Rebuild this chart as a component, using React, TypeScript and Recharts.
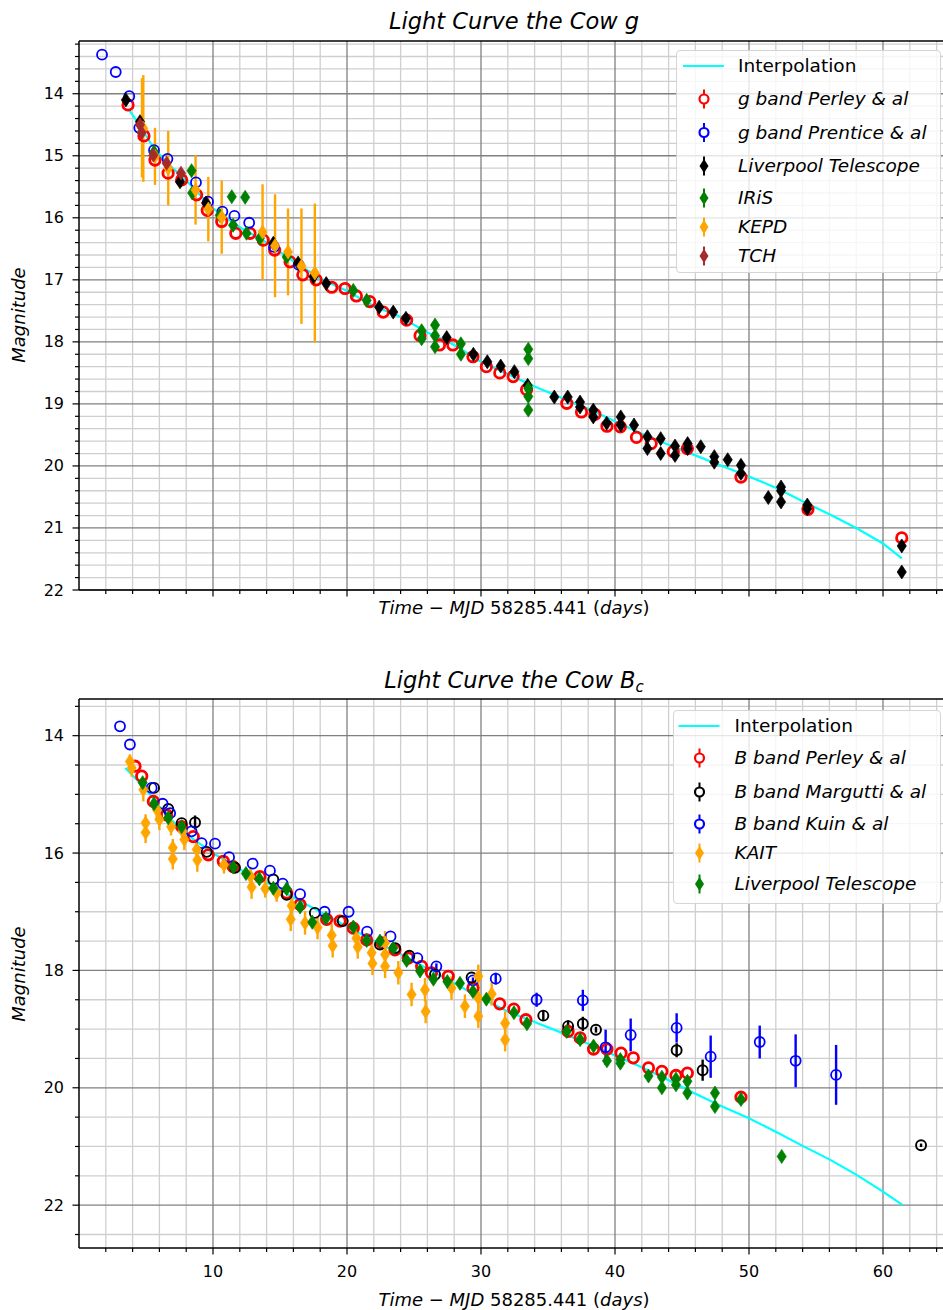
import React from 'react';
import { ComposedChart, ErrorBar, Line, ReferenceLine, Scatter, XAxis, YAxis } from 'recharts';

// ---- g band (top panel) ----
const gInterp: [number, number][] = [
	[3.7, 14.25], [4.5, 14.5], [5.5, 14.85], [6.5, 15.1], [8, 15.4], [10, 15.85], [12, 16.15], [14, 16.4],
	[16, 16.7], [18, 16.98], [20, 17.18], [22, 17.42], [24, 17.6], [26, 17.85], [28, 18.05], [30, 18.32],
	[32, 18.52], [34, 18.72], [36, 18.9], [38, 19.08], [40, 19.28], [42, 19.48], [44, 19.66], [46, 19.83],
	[48, 20.0], [50, 20.17], [52, 20.35], [54, 20.57], [56, 20.78], [58, 21.0], [60, 21.25], [61.4, 21.49]
];

const gPerley: [number, number][] = [
	[3.66, 14.18], [4.85, 14.68], [5.67, 15.07], [6.65, 15.28], [7.66, 15.39], [8.78, 15.63], [9.57, 15.88],
	[10.65, 16.06], [11.7, 16.25], [12.76, 16.25], [13.75, 16.36], [14.6, 16.52], [15.75, 16.71], [16.7, 16.92],
	[17.7, 17.0], [18.86, 17.12], [19.85, 17.14], [20.7, 17.26], [21.7, 17.35], [22.7, 17.52], [24.45, 17.65],
	[25.45, 17.9], [26.9, 18.05], [27.9, 18.05], [29.4, 18.24], [30.4, 18.4], [31.4, 18.5], [32.4, 18.56],
	[33.4, 18.77], [36.4, 18.99], [37.5, 19.13], [38.5, 19.17], [39.4, 19.36], [40.4, 19.37], [41.6, 19.54],
	[42.7, 19.64], [44.35, 19.77], [45.4, 19.72], [49.4, 20.18], [54.4, 20.7], [61.4, 21.16]
];

const gPrentice: [number, number][] = [
	[1.72, 13.37], [2.74, 13.65], [3.75, 14.04], [4.5, 14.55], [5.6, 14.91], [6.6, 15.05], [8.73, 15.43],
	[9.63, 15.74], [10.7, 15.9], [11.6, 15.97], [12.7, 16.08], [14.55, 16.47], [16.4, 16.76]
];

const gLiverpool: [number, number][] = [
	[3.5, 14.1], [4.55, 14.45], [7.54, 15.42], [9.48, 15.76], [14.5, 16.41], [16.35, 16.73], [17.5, 16.95],
	[18.45, 17.06], [22.4, 17.44], [23.45, 17.52], [24.4, 17.62], [27.44, 17.93], [29.43, 18.2], [30.47, 18.32],
	[31.47, 18.39], [32.49, 18.48], [33.48, 18.7], [35.47, 18.89], [36.47, 18.89], [37.39, 18.97], [37.39, 19.05],
	[38.38, 19.1], [38.38, 19.21], [39.38, 19.31], [40.43, 19.21], [40.43, 19.34], [41.42, 19.34], [42.42, 19.53],
	[42.42, 19.72], [43.41, 19.56], [43.41, 19.8], [44.48, 19.68], [44.48, 19.83], [45.42, 19.64], [45.42, 19.72],
	[46.4, 19.69], [47.41, 19.85], [47.41, 19.94], [48.41, 19.9], [49.4, 19.99], [49.4, 20.12], [51.44, 20.51],
	[52.39, 20.34], [52.39, 20.4], [52.39, 20.58], [54.35, 20.63], [54.35, 20.69], [61.4, 21.29], [61.4, 21.71]
];

const gIris: [number, number][] = [
	[5.6, 14.94], [8.4, 15.24], [8.45, 15.6], [10.5, 15.96], [11.4, 15.66], [11.5, 16.12], [12.4, 15.67],
	[12.5, 16.25], [13.5, 16.33], [15.5, 16.63], [20.47, 17.17], [21.47, 17.33], [25.57, 17.82], [25.57, 17.95],
	[26.57, 17.73], [26.57, 17.9], [26.57, 18.08], [28.5, 18.03], [28.5, 18.2], [33.53, 18.12], [33.53, 18.27],
	[33.53, 18.75], [33.53, 18.88], [33.53, 19.1]
];

// x, magnitude, error
const gKepd: [number, number, number][] = [
	[4.7, 14.55, 0.8], [4.8, 14.56, 0.86], [5.67, 15.01, 0.46], [6.66, 15.2, 0.6], [8.7, 15.55, 0.56],
	[9.65, 15.86, 0.52], [10.65, 15.99, 0.59], [13.7, 16.23, 0.77], [14.63, 16.45, 0.83], [15.6, 16.55, 0.7],
	[16.6, 16.78, 0.93], [17.6, 16.89, 1.12]
];

const gTch: [number, number][] = [
	[4.55, 14.5], [4.68, 14.63], [5.55, 14.99], [6.54, 15.12], [7.61, 15.28]
];

// ---- B band (bottom panel) ----
const bInterp: [number, number][] = [
	[3.45, 14.55], [4.8, 14.86], [6.5, 15.35], [8, 15.68], [10, 16.0], [12, 16.28], [14, 16.5], [16, 16.76],
	[18, 17.0], [20, 17.25], [22, 17.5], [24, 17.72], [26, 17.97], [28, 18.22], [30, 18.47], [32, 18.7],
	[34, 18.88], [36, 19.06], [38, 19.25], [40, 19.45], [42, 19.65], [44, 19.87], [46, 20.1], [48, 20.32],
	[50, 20.52], [52, 20.75], [54, 20.99], [56, 21.22], [58, 21.48], [60, 21.77], [61.47, 22.0]
];

const bPerley: [number, number][] = [
	[4.18, 14.52], [4.68, 14.69], [5.55, 15.12], [6.54, 15.35], [7.66, 15.55], [8.53, 15.72], [9.65, 16.03],
	[10.77, 16.14], [11.5, 16.23], [13.5, 16.4], [15.5, 16.68], [16.5, 16.88], [18.48, 17.13], [19.48, 17.16],
	[20.47, 17.28], [21.47, 17.48], [22.6, 17.53], [23.58, 17.65], [24.57, 17.79], [25.57, 17.93], [26.3, 18.04],
	[27.56, 18.1], [29.4, 18.3], [31.4, 18.57], [32.45, 18.66], [33.35, 18.84], [36.5, 19.04], [37.4, 19.15],
	[38.4, 19.34], [39.4, 19.34], [40.45, 19.41], [41.37, 19.49], [42.5, 19.66], [43.5, 19.72], [44.55, 19.79],
	[45.4, 19.75], [49.4, 20.16]
];

const bMargutti: [number, number, number][] = [
	[5.6, 14.89, 0], [6.66, 15.25, 0], [7.66, 15.49, 0], [8.66, 15.48, 0.12], [9.53, 15.98, 0], [11.64, 16.25, 0],
	[14.5, 16.45, 0], [15.5, 16.71, 0], [17.6, 17.02, 0], [19.68, 17.16, 0], [22.46, 17.56, 0], [23.6, 17.62, 0],
	[24.65, 17.75, 0], [26.57, 18.07, 0], [29.3, 18.12, 0], [34.65, 18.77, 0.08], [36.5, 18.95, 0.1],
	[37.6, 18.91, 0.12], [38.58, 19.01, 0.05], [44.6, 19.36, 0.12], [46.54, 19.7, 0.18], [62.84, 20.98, 0.03]
];

const bKuin: [number, number, number][] = [
	[3.06, 13.84, 0], [3.8, 14.15, 0], [5.42, 14.89, 0], [6.24, 15.16, 0], [6.8, 15.32, 0], [8.4, 15.63, 0],
	[9.15, 15.83, 0], [10.15, 15.84, 0], [11.2, 16.07, 0], [12.96, 16.18, 0], [14.25, 16.3, 0], [15.2, 16.52, 0],
	[16.5, 16.7, 0], [18.33, 17.0, 0], [20.12, 17.0, 0], [21.5, 17.34, 0], [23.25, 17.42, 0], [25.25, 17.79, 0],
	[26.67, 17.93, 0.05], [29.4, 18.17, 0.05], [31.1, 18.14, 0.1], [34.15, 18.5, 0.12], [37.6, 18.51, 0.18],
	[39.3, 19.31, 0.3], [41.17, 19.1, 0.28], [44.6, 18.98, 0.25], [47.14, 19.47, 0.36], [50.8, 19.22, 0.28],
	[53.48, 19.54, 0.45], [56.5, 19.78, 0.51]
];

const bKait: [number, number, number][] = [
	[3.8, 14.44, 0.12], [3.93, 14.55, 0.15], [4.8, 14.92, 0.2], [4.97, 15.49, 0.15], [4.97, 15.65, 0.18],
	[5.8, 15.26, 0.15], [6.0, 15.43, 0.18], [6.87, 15.55, 0.15], [7.0, 15.91, 0.15], [7.0, 16.1, 0.18],
	[7.74, 15.63, 0.15], [7.86, 15.77, 0.18], [8.78, 15.94, 0.15], [8.83, 16.12, 0.2], [10.82, 16.2, 0.15],
	[12.8, 16.4, 0.15], [12.88, 16.58, 0.2], [13.9, 16.61, 0.15], [14.75, 16.68, 0.15], [15.87, 16.9, 0.15],
	[15.8, 17.13, 0.2], [16.87, 17.19, 0.2], [17.8, 17.27, 0.2], [18.86, 17.4, 0.2], [18.93, 17.58, 0.2],
	[20.7, 17.45, 0.2], [20.8, 17.6, 0.2], [21.84, 17.7, 0.2], [21.9, 17.88, 0.2], [22.84, 17.53, 0.2],
	[22.84, 17.73, 0.2], [22.84, 17.93, 0.2], [23.83, 18.04, 0.2], [24.82, 18.41, 0.2], [25.82, 18.33, 0.2],
	[25.87, 18.7, 0.2], [27.8, 18.3, 0.2], [28.8, 18.61, 0.2], [29.8, 18.1, 0.2], [29.8, 18.47, 0.2],
	[29.8, 18.78, 0.2], [30.8, 18.4, 0.2], [31.8, 18.9, 0.2], [31.8, 19.18, 0.2]
];

const bLiverpool: [number, number][] = [
	[4.75, 14.8], [5.6, 15.16], [6.66, 15.4], [7.66, 15.55], [11.52, 16.24], [12.46, 16.35], [13.46, 16.44],
	[14.5, 16.6], [15.5, 16.61], [16.5, 16.92], [17.41, 17.18], [18.43, 17.11], [20.47, 17.26], [21.47, 17.49],
	[22.46, 17.5], [23.45, 17.62], [24.45, 17.83], [25.45, 18.01], [26.45, 18.15], [27.49, 18.19], [28.43, 18.22],
	[29.4, 18.36], [30.4, 18.49], [32.46, 18.72], [33.43, 18.91], [36.4, 19.04], [37.4, 19.18], [38.4, 19.29],
	[39.4, 19.54], [40.4, 19.52], [40.4, 19.58], [42.5, 19.8], [43.5, 19.82], [43.5, 20.0], [44.55, 19.85],
	[44.55, 19.95], [45.4, 19.89], [45.4, 20.09], [47.46, 20.09], [47.46, 20.32], [49.4, 20.2], [52.44, 21.17]
];

// ---- ticks ----
const xMajor = [10, 20, 30, 40, 50, 60];
const xMinor = [2, 4, 6, 8, 12, 14, 16, 18, 22, 24, 26, 28, 32, 34, 36, 38, 42, 44, 46, 48, 52, 54, 56, 58, 62, 64];
const gYMajor = [14, 15, 16, 17, 18, 19, 20, 21, 22];
const gYMinor = [
	13.2, 13.4, 13.6, 13.8, 14.2, 14.4, 14.6, 14.8, 15.2, 15.4, 15.6, 15.8, 16.2, 16.4, 16.6, 16.8, 17.2, 17.4,
	17.6, 17.8, 18.2, 18.4, 18.6, 18.8, 19.2, 19.4, 19.6, 19.8, 20.2, 20.4, 20.6, 20.8, 21.2, 21.4, 21.6, 21.8
];
const bYMajor = [14, 16, 18, 20, 22];
const bYMinor = [13.5, 14.5, 15, 15.5, 16.5, 17, 17.5, 18.5, 19, 19.5, 20.5, 21, 21.5, 22.5];

const FONT = "'DejaVu Sans', 'Liberation Sans', sans-serif";
const MAJOR_GRID = '#808080';
const MINOR_GRID = '#cfcfcf';
const W = 950;
const H = 640;
const AXIS_LEFT = 79;
const AXIS_BOTTOM = 590;

const pts = (rows: number[][]) => rows.map((r) => ({ x: r[0], y: r[1], err: r[2] ?? 0 }));

const ring = (color: string, r: number, sw: number) => (p: any) => (
	<circle cx={p.cx} cy={p.cy} r={r} fill='none' stroke={color} strokeWidth={sw} />
);

const diamond = (color: string) => (p: any) => (
	<polygon
		points={`${p.cx},${p.cy - 7} ${p.cx + 4.6},${p.cy} ${p.cx},${p.cy + 7} ${p.cx - 4.6},${p.cy}`}
		fill={color}
		stroke={color}
		strokeWidth={0.7}
	/>
);

type Series = {
	name: string;
	data: { x: number; y: number; err: number }[];
	shape: (p: any) => React.ReactElement;
	errColor?: string;
};

const Panel: React.FC<{
	yDomain: [number, number];
	yMajor: number[];
	yMinor: number[];
	xLabels: boolean;
	interp: [number, number][];
	series: Series[];
}> = ({ yDomain, yMajor, yMinor, xLabels, interp, series }) => {
	const yTicks = [...yMajor, ...yMinor].sort((a, b) => a - b);
	const xTicks = [...xMajor, ...xMinor].sort((a, b) => a - b);
	const renderYTick = (p: any) => {
		const v = p.payload.value;
		const major = yMajor.includes(v);
		return (
			<g>
				<line x1={AXIS_LEFT} x2={AXIS_LEFT - (major ? 6.5 : 4)} y1={p.y} y2={p.y} stroke='#000' strokeWidth={1.2} />
				{major && (
					<text x={AXIS_LEFT - 15} y={p.y} textAnchor='end' dominantBaseline='central' fontSize={16} fontFamily={FONT} fill='#000'>
						{v}
					</text>
				)}
			</g>
		);
	};
	const renderXTick = (p: any) => {
		const v = p.payload.value;
		const major = xMajor.includes(v);
		return (
			<g>
				<line x1={p.x} x2={p.x} y1={AXIS_BOTTOM} y2={AXIS_BOTTOM + (major ? 6.5 : 4)} stroke='#000' strokeWidth={1.2} />
				{major && xLabels && (
					<text x={p.x} y={AXIS_BOTTOM + 23} textAnchor='middle' dominantBaseline='central' fontSize={16} fontFamily={FONT} fill='#000'>
						{v}
					</text>
				)}
			</g>
		);
	};
	return (
		<ComposedChart width={W} height={H} margin={{ top: 41, right: 0, bottom: 0, left: 0 }}>
			<XAxis
				type='number'
				dataKey='x'
				domain={[0, 65]}
				allowDataOverflow
				ticks={xTicks}
				interval={0}
				tickLine={false}
				tick={renderXTick}
				axisLine={{ stroke: '#000', strokeWidth: 1.5 }}
				height={H - AXIS_BOTTOM}
			/>
			<YAxis
				type='number'
				dataKey='y'
				domain={yDomain}
				reversed
				allowDataOverflow
				ticks={yTicks}
				interval={0}
				tickLine={false}
				tick={renderYTick}
				axisLine={{ stroke: '#000', strokeWidth: 1.5 }}
				width={AXIS_LEFT}
			/>
			{xMinor.map((v) => (
				<ReferenceLine key={`xm${v}`} x={v} stroke={MINOR_GRID} strokeWidth={1.3} zIndex={-60} />
			))}
			{yMinor.map((v) => (
				<ReferenceLine key={`ym${v}`} y={v} stroke={MINOR_GRID} strokeWidth={1.3} zIndex={-60} />
			))}
			{xMajor.map((v) => (
				<ReferenceLine key={`xM${v}`} x={v} stroke={MAJOR_GRID} strokeWidth={1.3} zIndex={-50} />
			))}
			{yMajor.map((v) => (
				<ReferenceLine key={`yM${v}`} y={v} stroke={MAJOR_GRID} strokeWidth={1.3} zIndex={-50} />
			))}
			<ReferenceLine y={yDomain[0]} stroke='#000' strokeWidth={1.5} />
			<Line
				data={interp.map((r) => ({ x: r[0], y: r[1] }))}
				dataKey='y'
				type='linear'
				stroke='#00ffff'
				strokeWidth={2.2}
				dot={false}
				activeDot={false}
				isAnimationActive={false}
			/>
			{series.map((s) => (
				<Scatter key={s.name} name={s.name} data={s.data} dataKey='y' shape={s.shape} isAnimationActive={false}>
					{s.errColor && <ErrorBar dataKey='err' direction='y' width={0} stroke={s.errColor} strokeWidth={2.4} />}
				</Scatter>
			))}
		</ComposedChart>
	);
};

type LegendItem = { label: React.ReactNode; kind: 'line' | 'ring' | 'diamond'; color: string; cy: number };

const Legend: React.FC<{ left: number; top: number; width: number; height: number; handleX: number; textX: number; items: LegendItem[] }> = ({
	left,
	top,
	width,
	height,
	handleX,
	textX,
	items
}) => (
	<div
		style={{
			position: 'absolute',
			left,
			top,
			width,
			height,
			background: 'rgba(255,255,255,0.8)',
			border: '1px solid #d5d5d5',
			borderRadius: 4,
			boxSizing: 'border-box'
		}}
	>
		<svg width={width} height={height} style={{ position: 'absolute', left: 0, top: 0 }}>
			{items.map((it, i) => {
				if (it.kind === 'line') {
					return <line key={i} x1={handleX - 21} x2={handleX + 20} y1={it.cy} y2={it.cy} stroke={it.color} strokeWidth={2.2} />;
				}
				return (
					<g key={i}>
						<line x1={handleX} x2={handleX} y1={it.cy - 9.5} y2={it.cy + 9.5} stroke={it.color} strokeWidth={2} />
						{it.kind === 'ring' ? (
							<circle cx={handleX} cy={it.cy} r={4.5} fill='#fff' stroke={it.color} strokeWidth={2.2} />
						) : (
							<polygon
								points={`${handleX},${it.cy - 7} ${handleX + 4.5},${it.cy} ${handleX},${it.cy + 7} ${handleX - 4.5},${it.cy}`}
								fill={it.color}
							/>
						)}
					</g>
				);
			})}
		</svg>
		{items.map((it, i) => (
			<div
				key={i}
				style={{
					position: 'absolute',
					left: textX,
					top: it.cy - 12,
					height: 24,
					lineHeight: '24px',
					fontSize: 18.5,
					fontFamily: FONT,
					fontStyle: it.kind === 'line' ? 'normal' : 'italic',
					whiteSpace: 'nowrap',
					color: '#000'
				}}
			>
				{it.label}
			</div>
		))}
	</div>
);

const textBase: React.CSSProperties = { position: 'absolute', fontFamily: FONT, color: '#000', whiteSpace: 'nowrap' };

const Title: React.FC<{ top: number; children: React.ReactNode }> = ({ top, children }) => (
	<div style={{ ...textBase, left: 514, top, transform: 'translateX(-50%)', fontSize: 22.5, fontStyle: 'italic', lineHeight: '26px' }}>
		{children}
	</div>
);

const XLabel: React.FC<{ top: number }> = ({ top }) => (
	<div style={{ ...textBase, left: 514, top, transform: 'translateX(-50%)', fontSize: 18, lineHeight: '22px' }}>
		<i>Time</i> − <i>MJD</i> 58285.441 (<i>days</i>)
	</div>
);

const YLabel: React.FC<{ center: number }> = ({ center }) => (
	<div
		style={{
			...textBase,
			left: 19,
			top: center,
			transform: 'translate(-50%, -50%) rotate(-90deg)',
			fontSize: 18,
			fontStyle: 'italic',
			lineHeight: '22px'
		}}
	>
		Magnitude
	</div>
);

export default function App() {
	const gSeries: Series[] = [
		{ name: 'g band Perley & al', data: pts(gPerley), shape: ring('#ff0000', 5.2, 2.8) },
		{ name: 'g band Prentice & al', data: pts(gPrentice), shape: ring('#0000ff', 5, 1.8) },
		{ name: 'Liverpool Telescope', data: pts(gLiverpool), shape: diamond('#000000') },
		{ name: 'IRiS', data: pts(gIris), shape: diamond('#008000') },
		{ name: 'KEPD', data: pts(gKepd), shape: diamond('#ffa500'), errColor: '#ffa500' },
		{ name: 'TCH', data: pts(gTch), shape: diamond('#a52a2a') }
	];
	const bSeries: Series[] = [
		{ name: 'B band Perley & al', data: pts(bPerley), shape: ring('#ff0000', 5.2, 2.8) },
		{ name: 'B band Margutti & al', data: pts(bMargutti), shape: ring('#000000', 5, 1.9), errColor: '#000000' },
		{ name: 'B band Kuin & al', data: pts(bKuin), shape: ring('#0000ff', 5, 1.8), errColor: '#0000ff' },
		{ name: 'KAIT', data: pts(bKait), shape: diamond('#ffa500'), errColor: '#ffa500' },
		{ name: 'Liverpool Telescope', data: pts(bLiverpool), shape: diamond('#008000') }
	];

	const gLegend: LegendItem[] = [
		{ label: 'Interpolation', kind: 'line', color: '#00ffff', cy: 15 },
		{ label: 'g band Perley & al', kind: 'ring', color: '#ff0000', cy: 48 },
		{ label: 'g band Prentice & al', kind: 'ring', color: '#0000ff', cy: 81.5 },
		{ label: 'Liverpool Telescope', kind: 'diamond', color: '#000000', cy: 115 },
		{ label: 'IRiS', kind: 'diamond', color: '#008000', cy: 147 },
		{ label: 'KEPD', kind: 'diamond', color: '#ffa500', cy: 176 },
		{ label: 'TCH', kind: 'diamond', color: '#a52a2a', cy: 205 }
	];
	const bLegend: LegendItem[] = [
		{ label: 'Interpolation', kind: 'line', color: '#00ffff', cy: 15 },
		{ label: 'B band Perley & al', kind: 'ring', color: '#ff0000', cy: 47 },
		{ label: 'B band Margutti & al', kind: 'ring', color: '#000000', cy: 81 },
		{ label: 'B band Kuin & al', kind: 'ring', color: '#0000ff', cy: 113 },
		{ label: 'KAIT', kind: 'diamond', color: '#ffa500', cy: 142 },
		{ label: 'Liverpool Telescope', kind: 'diamond', color: '#008000', cy: 173 }
	];

	return (
		<div style={{ position: 'absolute', left: 0, top: 0, width: 943, height: 1310, overflow: 'hidden', background: '#fff' }}>
			<div style={{ position: 'absolute', left: 0, top: 0 }}>
				<Panel yDomain={[13.15, 22]} yMajor={gYMajor} yMinor={gYMinor} xLabels={false} interp={gInterp} series={gSeries} />
			</div>
			<div style={{ position: 'absolute', left: 0, top: 658 }}>
				<Panel yDomain={[13.375, 22.73]} yMajor={bYMajor} yMinor={bYMinor} xLabels interp={bInterp} series={bSeries} />
			</div>
			<Title top={8}>Light Curve the Cow g</Title>
			<Title top={667}>
				Light Curve the Cow B<sub style={{ fontSize: 15, verticalAlign: -4 }}>c</sub>
			</Title>
			<XLabel top={597} />
			<XLabel top={1289} />
			<YLabel center={315} />
			<YLabel center={974} />
			<Legend left={676} top={50} width={265} height={223} handleX={27} textX={61} items={gLegend} />
			<Legend left={673} top={710} width={268} height={194} handleX={25.5} textX={60.5} items={bLegend} />
		</div>
	);
}
